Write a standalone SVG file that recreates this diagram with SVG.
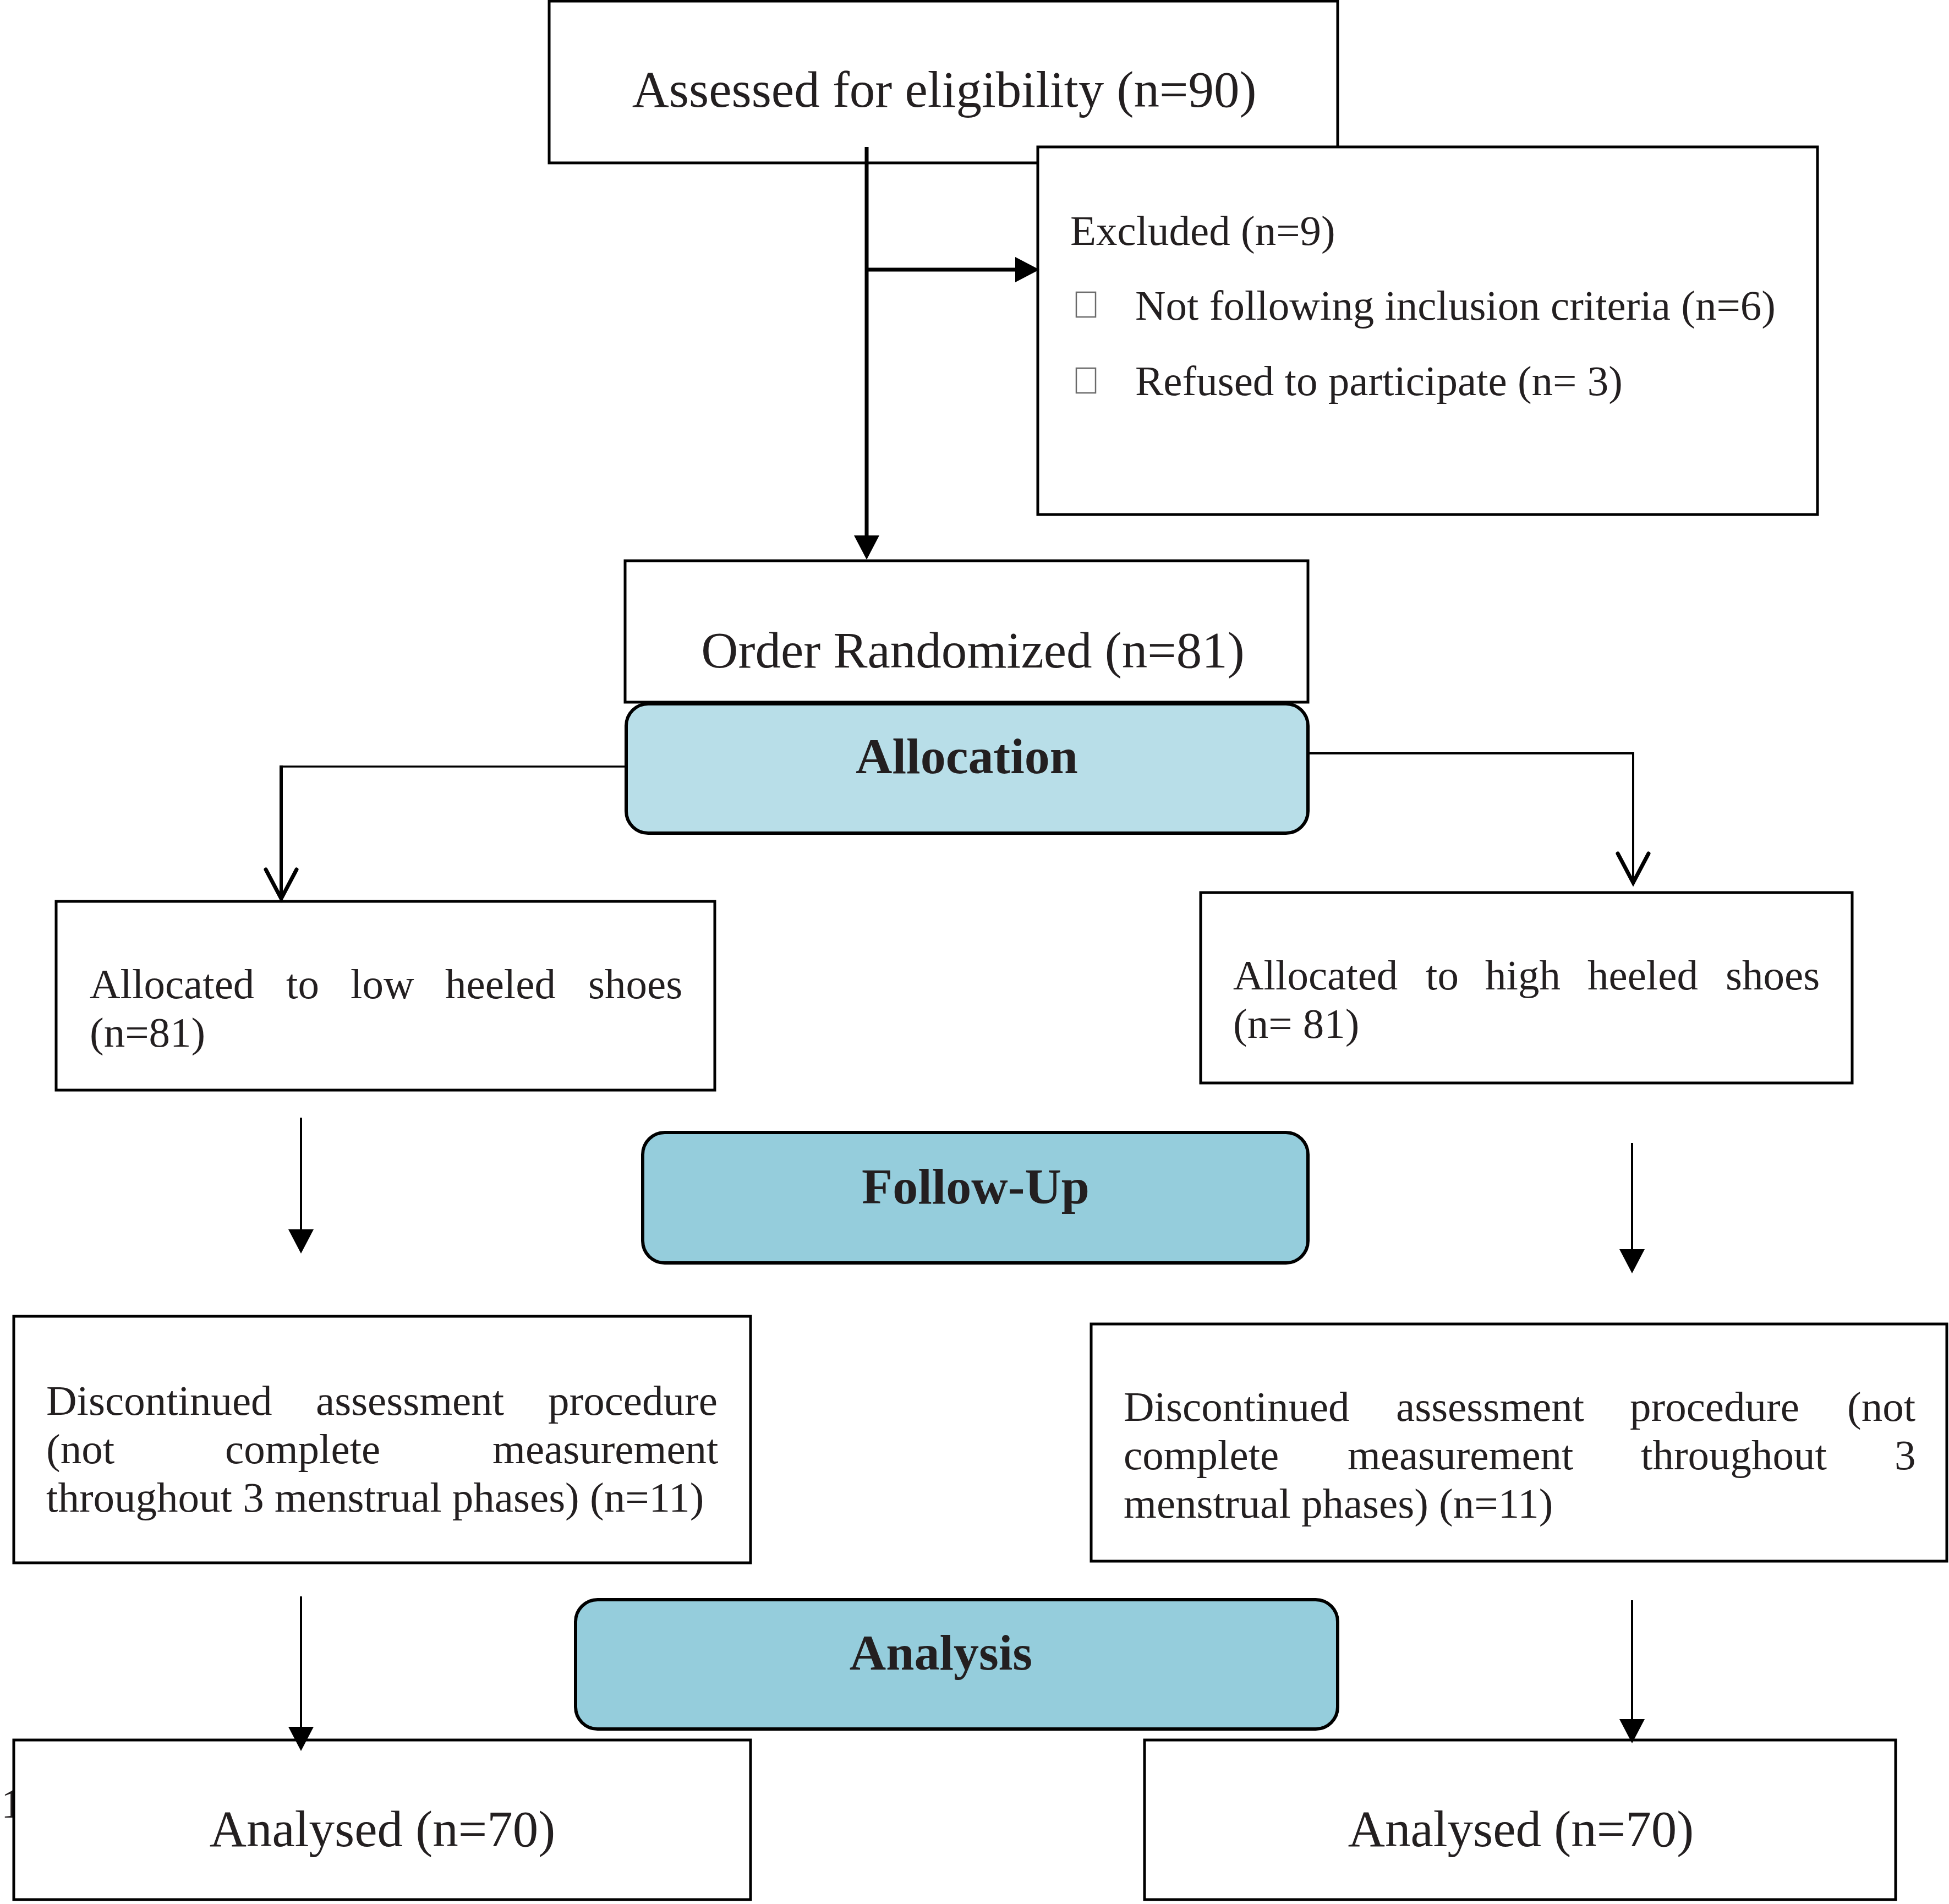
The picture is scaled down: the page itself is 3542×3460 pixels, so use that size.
<svg xmlns="http://www.w3.org/2000/svg" width="3542" height="3460" viewBox="0 0 3542 3460">
<style>
.bg{fill:#ffffff}
.box{fill:#ffffff;stroke:#000000;stroke-width:5}
.hdr1{fill:#b8dee8;stroke:#000000;stroke-width:6}
.hdr2{fill:#95cddc;stroke:#000000;stroke-width:6}
.t{font-family:"Liberation Serif","Times New Roman",serif;fill:#231f20}
.big{font-size:93px}
.sm{font-size:77px}
.bold{font-size:92px;font-weight:bold}
.mid{text-anchor:middle}
.bul{fill:#ffffff;stroke:#6a6a6a;stroke-width:2.5}
.ln{fill:none;stroke:#000000}
</style>
<defs>
<marker id="arrF" viewBox="0 0 44 46" refX="4" refY="23" markerWidth="44" markerHeight="46" markerUnits="userSpaceOnUse" orient="auto">
<path d="M0,0 L44,23 L0,46 z" fill="#000000"/>
</marker>
<marker id="arrO" viewBox="-62 -36 70 72" refX="0" refY="0" markerWidth="70" markerHeight="72" markerUnits="userSpaceOnUse" orient="auto">
<path d="M-53,-28 L0,0 L-53,28" fill="none" stroke="#000000" stroke-width="7" stroke-linecap="round" stroke-linejoin="miter"/>
</marker>
</defs>
<rect class="bg" x="0" y="0" width="3542" height="3460"/>
<text class="t sm" x="2" y="3303">1</text>
<g id="node-assessed">
<rect class="box" x="998" y="2" width="1433" height="294"/>
<text class="t big mid" x="1716" y="194">Assessed for eligibility (n=90)</text>
</g>
<g id="node-excluded">
<rect class="box" x="1886" y="267" width="1417" height="668"/>
<text class="t sm" x="1945" y="445">Excluded (n=9)</text>
<rect class="bul" x="1956" y="531" width="35" height="45"/>
<text class="t sm" x="2063" y="581">Not following inclusion criteria (n=6)</text>
<rect class="bul" x="1956" y="669" width="35" height="45"/>
<text class="t sm" x="2063" y="718">Refused to participate (n= 3)</text>
</g>
<g id="node-randomized">
<rect class="box" x="1136" y="1019" width="1241" height="257"/>
<text class="t big mid" x="1768" y="1213">Order Randomized (n=81)</text>
</g>
<g id="node-allocation">
<rect class="hdr1" x="1138" y="1279" width="1239" height="235" rx="40" ry="40"/>
<text class="t bold mid" x="1757" y="1405">Allocation</text>
</g>
<g id="node-low">
<rect class="box" x="102" y="1638" width="1197" height="343"/>
<text class="t sm" y="1814"><tspan x="163">Allocated</tspan><tspan x="520">to</tspan><tspan x="637">low</tspan><tspan x="809">heeled</tspan><tspan x="1069">shoes</tspan></text>
<text class="t sm" x="163" y="1902">(n=81)</text>
</g>
<g id="node-high">
<rect class="box" x="2182" y="1622" width="1184" height="346"/>
<text class="t sm" y="1798"><tspan x="2241">Allocated</tspan><tspan x="2591">to</tspan><tspan x="2699">high</tspan><tspan x="2885">heeled</tspan><tspan x="3136">shoes</tspan></text>
<text class="t sm" x="2241" y="1886">(n= 81)</text>
</g>
<g id="node-followup">
<rect class="hdr2" x="1168" y="2058" width="1209" height="237" rx="40" ry="40"/>
<text class="t bold mid" x="1773" y="2187">Follow-Up</text>
</g>
<g id="node-disc-left">
<rect class="box" x="25" y="2392" width="1339" height="448"/>
<text class="t sm" y="2571"><tspan x="84">Discontinued</tspan><tspan x="574">assessment</tspan><tspan x="996">procedure</tspan></text>
<text class="t sm" y="2659"><tspan x="84">(not</tspan><tspan x="409">complete</tspan><tspan x="895">measurement</tspan></text>
<text class="t sm" x="84" y="2747">throughout 3 menstrual phases) (n=11)</text>
</g>
<g id="node-disc-right">
<rect class="box" x="1983" y="2406" width="1555" height="431"/>
<text class="t sm" y="2582"><tspan x="2042">Discontinued</tspan><tspan x="2537">assessment</tspan><tspan x="2962">procedure</tspan><tspan x="3357">(not</tspan></text>
<text class="t sm" y="2670"><tspan x="2042">complete</tspan><tspan x="2449">measurement</tspan><tspan x="2982">throughout</tspan><tspan x="3443">3</tspan></text>
<text class="t sm" x="2042" y="2758">menstrual phases) (n=11)</text>
</g>
<g id="node-analysis">
<rect class="hdr2" x="1046" y="2907" width="1385" height="235" rx="40" ry="40"/>
<text class="t bold mid" x="1710" y="3034">Analysis</text>
</g>
<g id="node-analysed-left">
<rect class="box" x="25" y="3162" width="1339" height="290"/>
<text class="t big mid" x="695" y="3355">Analysed (n=70)</text>
</g>
<g id="node-analysed-right">
<rect class="box" x="2080" y="3162" width="1365" height="290"/>
<text class="t big mid" x="2764" y="3355">Analysed (n=70)</text>
</g>
<g id="connectors">
<line class="ln" x1="1575" y1="267" x2="1575" y2="977" stroke-width="7" marker-end="url(#arrF)"/>
<line class="ln" x1="1575" y1="490" x2="1849" y2="490" stroke-width="7" marker-end="url(#arrF)"/>
<polyline class="ln" points="1136,1393 511,1393" stroke-width="3.5"/>
<line class="ln" x1="511" y1="1391" x2="511" y2="1633" stroke-width="6" marker-end="url(#arrO)"/>
<polyline class="ln" points="2377,1369 2968,1369 2968,1604" stroke-width="4" marker-end="url(#arrO)"/>
<line class="ln" x1="547" y1="2031" x2="547" y2="2238" stroke-width="4" marker-end="url(#arrF)"/>
<line class="ln" x1="2966" y1="2077" x2="2966" y2="2274" stroke-width="4" marker-end="url(#arrF)"/>
<line class="ln" x1="547" y1="2901" x2="547" y2="3142" stroke-width="4" marker-end="url(#arrF)"/>
<line class="ln" x1="2966" y1="2908" x2="2966" y2="3128" stroke-width="4" marker-end="url(#arrF)"/>
</g>
</svg>
